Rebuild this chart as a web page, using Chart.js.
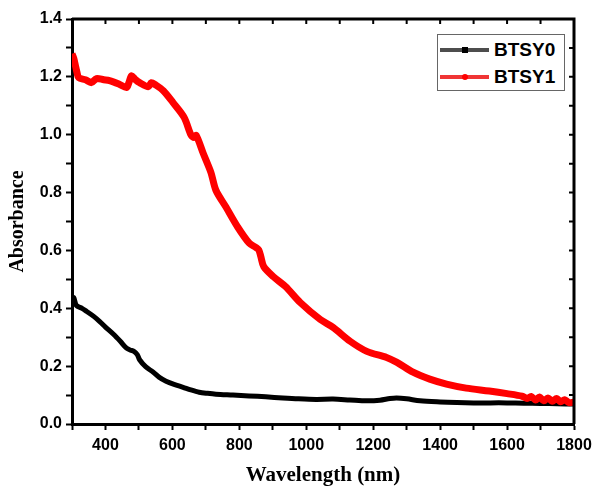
<!DOCTYPE html>
<html>
<head>
<meta charset="utf-8">
<script src="https://cdn.jsdelivr.net/npm/chart.js@4"></script>
<style>
  body { margin: 0; background: #fff; }
  #wrap { position: relative; width: 594px; height: 488px; }
  #legend {
    position: absolute; left: 437px; top: 34px; width: 126px; height: 55px;
    border: 1px solid #666; background: #fff; list-style: none; margin: 0; padding: 0;
    font: bold 19px "Liberation Sans", Arial, sans-serif; color: #000;
  }
  #legend li { position: absolute; left: 0; height: 22px; line-height: 22px; }
  #legend .ln { position: absolute; left: 2px; top: 9px; width: 49px; height: 4px; }
  #legend .mk { position: absolute; left: 22px; top: -1px; width: 6px; height: 6px; }
  #legend .tx { position: absolute; left: 56px; top: 0; }
</style>
</head>
<body>
<div id="wrap">
  <canvas id="chartAbs" width="594" height="488"></canvas>
  <ul id="legend"></ul>
</div>
<script>
// BTSY0 (black)
const wlY0  = [300, 305, 313, 330, 344, 365, 383, 400, 424, 445, 463, 475, 484, 495, 502, 520, 543, 560, 581, 605, 632, 655, 680, 705, 730, 781, 829, 879, 930, 977, 1030, 1080, 1130, 1180, 1220, 1250, 1270, 1300, 1340, 1400, 1450, 1500, 1550, 1600, 1650, 1700, 1750, 1800];
const absY0 = [0.43, 0.437, 0.41, 0.40, 0.389, 0.372, 0.354, 0.335, 0.31, 0.285, 0.262, 0.255, 0.252, 0.24, 0.222, 0.198, 0.179, 0.162, 0.148, 0.137, 0.127, 0.118, 0.11, 0.106, 0.103, 0.1, 0.097, 0.094, 0.09, 0.087, 0.085, 0.086, 0.083, 0.08, 0.082, 0.088, 0.09, 0.087, 0.08, 0.076, 0.074, 0.073, 0.073, 0.073, 0.072, 0.071, 0.07, 0.069];

// BTSY1 (red)
const wlY1  = [300, 305, 310, 315, 320, 340, 358, 373, 395, 412, 440, 463, 470, 478, 490, 502, 528, 537, 550, 573, 602, 635, 656, 665, 671, 692, 715, 730, 760, 795, 829, 850, 858, 864, 873, 902, 938, 982, 1042, 1080, 1131, 1181, 1240, 1271, 1319, 1369, 1419, 1478, 1547, 1600, 1645, 1660, 1672, 1685, 1697, 1710, 1722, 1735, 1748, 1760, 1772, 1785, 1800];
const absY1 = [1.28, 1.265, 1.24, 1.215, 1.197, 1.19, 1.18, 1.194, 1.19, 1.187, 1.175, 1.163, 1.18, 1.204, 1.19, 1.18, 1.166, 1.18, 1.172, 1.152, 1.111, 1.06, 0.998, 0.99, 0.998, 0.936, 0.87, 0.808, 0.75, 0.681, 0.626, 0.61, 0.602, 0.58, 0.544, 0.509, 0.475, 0.42, 0.361, 0.334, 0.286, 0.251, 0.23, 0.213, 0.179, 0.155, 0.138, 0.124, 0.114, 0.105, 0.096, 0.088, 0.095, 0.083, 0.093, 0.08, 0.09, 0.079, 0.088, 0.077, 0.084, 0.074, 0.076];

const xRange = [300, 1800];
const yRange = [0, 1.4];

const series = [
  { label: 'BTSY0', wl: wlY0, abs: absY0, color: '#000000', legendColor: '#4d4d4d', marker: 'square', width: 5, order: 1 },
  { label: 'BTSY1', wl: wlY1, abs: absY1, color: '#ff0000', legendColor: '#f03535', marker: 'circle', width: 7, order: 0 },
];

const tickFont = { family: '"Liberation Sans", Arial, sans-serif', size: 16, weight: 'bold' };
const titleFamily = '"Liberation Serif", "Times New Roman", serif';

// frame on top/right + inward ticks
const framePlugin = {
  id: 'frame',
  afterDraw(chart) {
    const { ctx, chartArea: a, scales: { x, y } } = chart;
    ctx.save();
    ctx.strokeStyle = '#000';
    ctx.lineWidth = 3;
    ctx.beginPath();
    ctx.moveTo(a.left, a.top); ctx.lineTo(a.right, a.top); ctx.lineTo(a.right, a.bottom);
    ctx.stroke();
    ctx.lineWidth = 2;
    ctx.beginPath();
    x.ticks.forEach(t => {
      const px = x.getPixelForValue(t.value);
      ctx.moveTo(px, a.top); ctx.lineTo(px, a.top + 5);
    });
    y.ticks.forEach(t => {
      const py = y.getPixelForValue(t.value);
      ctx.moveTo(a.right, py); ctx.lineTo(a.right - 5, py);
    });
    ctx.stroke();
    ctx.restore();
  }
};

new Chart(document.getElementById('chartAbs'), {
  type: 'line',
  data: {
    datasets: series.map(s => ({
      label: s.label,
      data: s.wl.map((w, i) => ({ x: w, y: s.abs[i] })),
      borderColor: s.color,
      borderWidth: s.width,
      pointRadius: 0,
      tension: 0.3,
      order: s.order
    }))
  },
  options: {
    responsive: false,
    animation: false,
    layout: { padding: { top: 19, right: 20, left: 0, bottom: 0 } },
    plugins: { legend: { display: false }, tooltip: { enabled: false } },
    scales: {
      x: {
        type: 'linear', min: xRange[0], max: xRange[1],
        afterFit: s => { s.height = 64; s.paddingLeft = 0; s.paddingRight = 0; },
        ticks: {
          stepSize: 100, autoSkip: false, maxRotation: 0, padding: 6,
          color: '#000', font: tickFont,
          callback: v => (v % 200 === 0 ? v : '')
        },
        grid: { drawOnChartArea: false, drawTicks: true, tickLength: 6, tickWidth: 2, tickColor: '#000' },
        border: { display: true, color: '#000', width: 3 },
        title: {
          display: true, text: 'Wavelength (nm)', color: '#000',
          font: { family: titleFamily, size: 21, weight: 'bold' },
          padding: { top: 0, bottom: 0 }
        }
      },
      y: {
        min: yRange[0], max: yRange[1],
        afterFit: s => { s.width = 72; s.paddingTop = 0; s.paddingBottom = 0; },
        ticks: {
          stepSize: 0.1, autoSkip: false, padding: 4,
          color: '#000', font: tickFont,
          callback: v => (Math.round(v * 10) % 2 === 0 ? v.toFixed(1) : '')
        },
        grid: { drawOnChartArea: false, drawTicks: true, tickLength: 6, tickWidth: 2, tickColor: '#000' },
        border: { display: true, color: '#000', width: 3 },
        title: {
          display: true, text: 'Absorbance', color: '#000',
          font: { family: titleFamily, size: 20, weight: 'bold' },
          padding: { top: 6, bottom: 0 }
        }
      }
    }
  },
  plugins: [framePlugin]
});

// legend
document.getElementById('legend').innerHTML = series.map((s, i) => {
  const mk = s.marker === 'circle' ? 'border-radius:50%;' : '';
  return `<li style="top:${4 + i * 27}px"><span class="ln" style="background:${s.legendColor}"><span class="mk" style="background:${s.color};${mk}"></span></span><span class="tx">${s.label}</span></li>`;
}).join('');
</script>
</body>
</html>
